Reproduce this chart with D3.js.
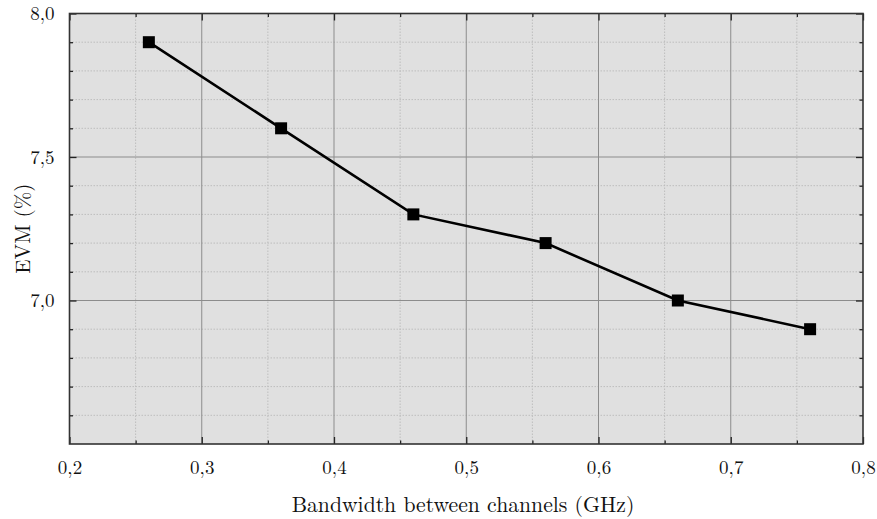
<!DOCTYPE html>
<html>
<head>
<meta charset="utf-8">
<script src="https://cdn.jsdelivr.net/npm/d3@7"></script>
<style>
  html, body { margin: 0; padding: 0; background: #fff; }
  svg { display: block; }
</style>
</head>
<body>
<svg id="chart" width="877" height="519"></svg>
<script>
// EVM measured against channel spacing
const bandwidth = [0.26, 0.36, 0.46, 0.56, 0.66, 0.76];
const evm = [7.9, 7.6, 7.3, 7.2, 7.0, 6.9];

const xMajorTicks = [0.2, 0.3, 0.4, 0.5, 0.6, 0.7, 0.8];
const xMinorTicks = [0.25, 0.35, 0.45, 0.55, 0.65, 0.75];
const yMajorTicks = [7.0, 7.5, 8.0];
const yMinorTicks = [6.6, 6.7, 6.8, 6.9, 7.1, 7.2, 7.3, 7.4, 7.6, 7.7, 7.8, 7.9];

const xLabel = "Bandwidth between channels (GHz)";
const yLabel = "EVM (%)";

const FONT = '"Latin Modern Roman", "CMU Serif", "Liberation Serif", serif';

const svg = d3.select("#chart");
const plotL = 69.5, plotR = 863, plotT = 13.5, plotB = 444;

const x = d3.scaleLinear().domain([0.2, 0.8]).range([plotL, plotR]);
const y = d3.scaleLinear().domain([6.5, 8.0]).range([plotB, plotT]);
const fmt = d => d3.format(".1f")(d).replace(".", ",");

// plot background
svg.append("rect")
  .attr("x", plotL).attr("y", plotT)
  .attr("width", plotR - plotL).attr("height", plotB - plotT)
  .attr("fill", "#e0e0e0");

// minor grid (dotted)
const grid = svg.append("g");
grid.selectAll("line.xm").data(xMinorTicks).join("line")
  .attr("x1", d => x(d)).attr("x2", d => x(d))
  .attr("y1", plotT).attr("y2", plotB)
  .attr("stroke", "#bdbdbd").attr("stroke-width", 1).attr("stroke-dasharray", "1.5,1.5");
grid.selectAll("line.ym").data(yMinorTicks).join("line")
  .attr("x1", plotL).attr("x2", plotR)
  .attr("y1", d => y(d)).attr("y2", d => y(d))
  .attr("stroke", "#bdbdbd").attr("stroke-width", 1).attr("stroke-dasharray", "1.5,1.5");

// major grid (solid)
grid.selectAll("line.xM").data(xMajorTicks.slice(1, -1)).join("line")
  .attr("x1", d => x(d)).attr("x2", d => x(d))
  .attr("y1", plotT).attr("y2", plotB)
  .attr("stroke", "#8c8c8c").attr("stroke-width", 1);
grid.selectAll("line.yM").data(yMajorTicks.slice(0, -1)).join("line")
  .attr("x1", plotL).attr("x2", plotR)
  .attr("y1", d => y(d)).attr("y2", d => y(d))
  .attr("stroke", "#8c8c8c").attr("stroke-width", 1);

// axes with inward ticks, mirrored on all four sides
function addAxis(fn, scale, major, minor, transform, labels, pad) {
  const g = svg.append("g").attr("transform", transform);
  g.call(fn(scale).tickValues(minor).tickSize(-3.5).tickFormat(""));
  g.select(".domain").remove();
  const g2 = svg.append("g").attr("transform", transform);
  g2.call(fn(scale).tickValues(major).tickSize(-7).tickPadding(pad)
    .tickFormat(labels ? fmt : ""));
  g2.select(".domain").remove();
  [g, g2].forEach(gg => gg.selectAll(".tick line").attr("stroke", "#222").attr("stroke-width", 1.3));
  g2.attr("font-family", FONT).attr("font-size", 19);
  g2.selectAll(".tick text").attr("fill", "#111");
  return g2;
}
addAxis(d3.axisBottom, x, xMajorTicks, xMinorTicks, `translate(0,${plotB})`, true, 17);
addAxis(d3.axisTop, x, xMajorTicks, xMinorTicks, `translate(0,${plotT})`, false, 10);
addAxis(d3.axisLeft, y, yMajorTicks, yMinorTicks, `translate(${plotL},0)`, true, 15);
addAxis(d3.axisRight, y, yMajorTicks, yMinorTicks, `translate(${plotR},0)`, false, 10);

// frame
svg.append("rect")
  .attr("x", plotL).attr("y", plotT)
  .attr("width", plotR - plotL).attr("height", plotB - plotT)
  .attr("fill", "none").attr("stroke", "#333").attr("stroke-width", 1.6);

// data line and markers
const pts = bandwidth.map((b, i) => [b, evm[i]]);
svg.append("path")
  .datum(pts)
  .attr("fill", "none").attr("stroke", "#000").attr("stroke-width", 2.6)
  .attr("d", d3.line().x(d => x(d[0])).y(d => y(d[1])));
const ms = 12;
svg.selectAll("rect.pt").data(pts).join("rect")
  .attr("class", "pt")
  .attr("x", d => x(d[0]) - ms / 2).attr("y", d => y(d[1]) - ms / 2)
  .attr("width", ms).attr("height", ms).attr("fill", "#000");

// axis titles
svg.append("text")
  .attr("x", 463).attr("y", 512)
  .attr("text-anchor", "middle")
  .attr("font-family", FONT).attr("font-size", 21.7).attr("fill", "#111")
  .text(xLabel);
svg.append("text")
  .attr("transform", `translate(30,${(plotT + plotB) / 2}) rotate(-90)`)
  .attr("text-anchor", "middle")
  .attr("font-family", FONT).attr("font-size", 21).attr("fill", "#111")
  .text(yLabel);
</script>
</body>
</html>
